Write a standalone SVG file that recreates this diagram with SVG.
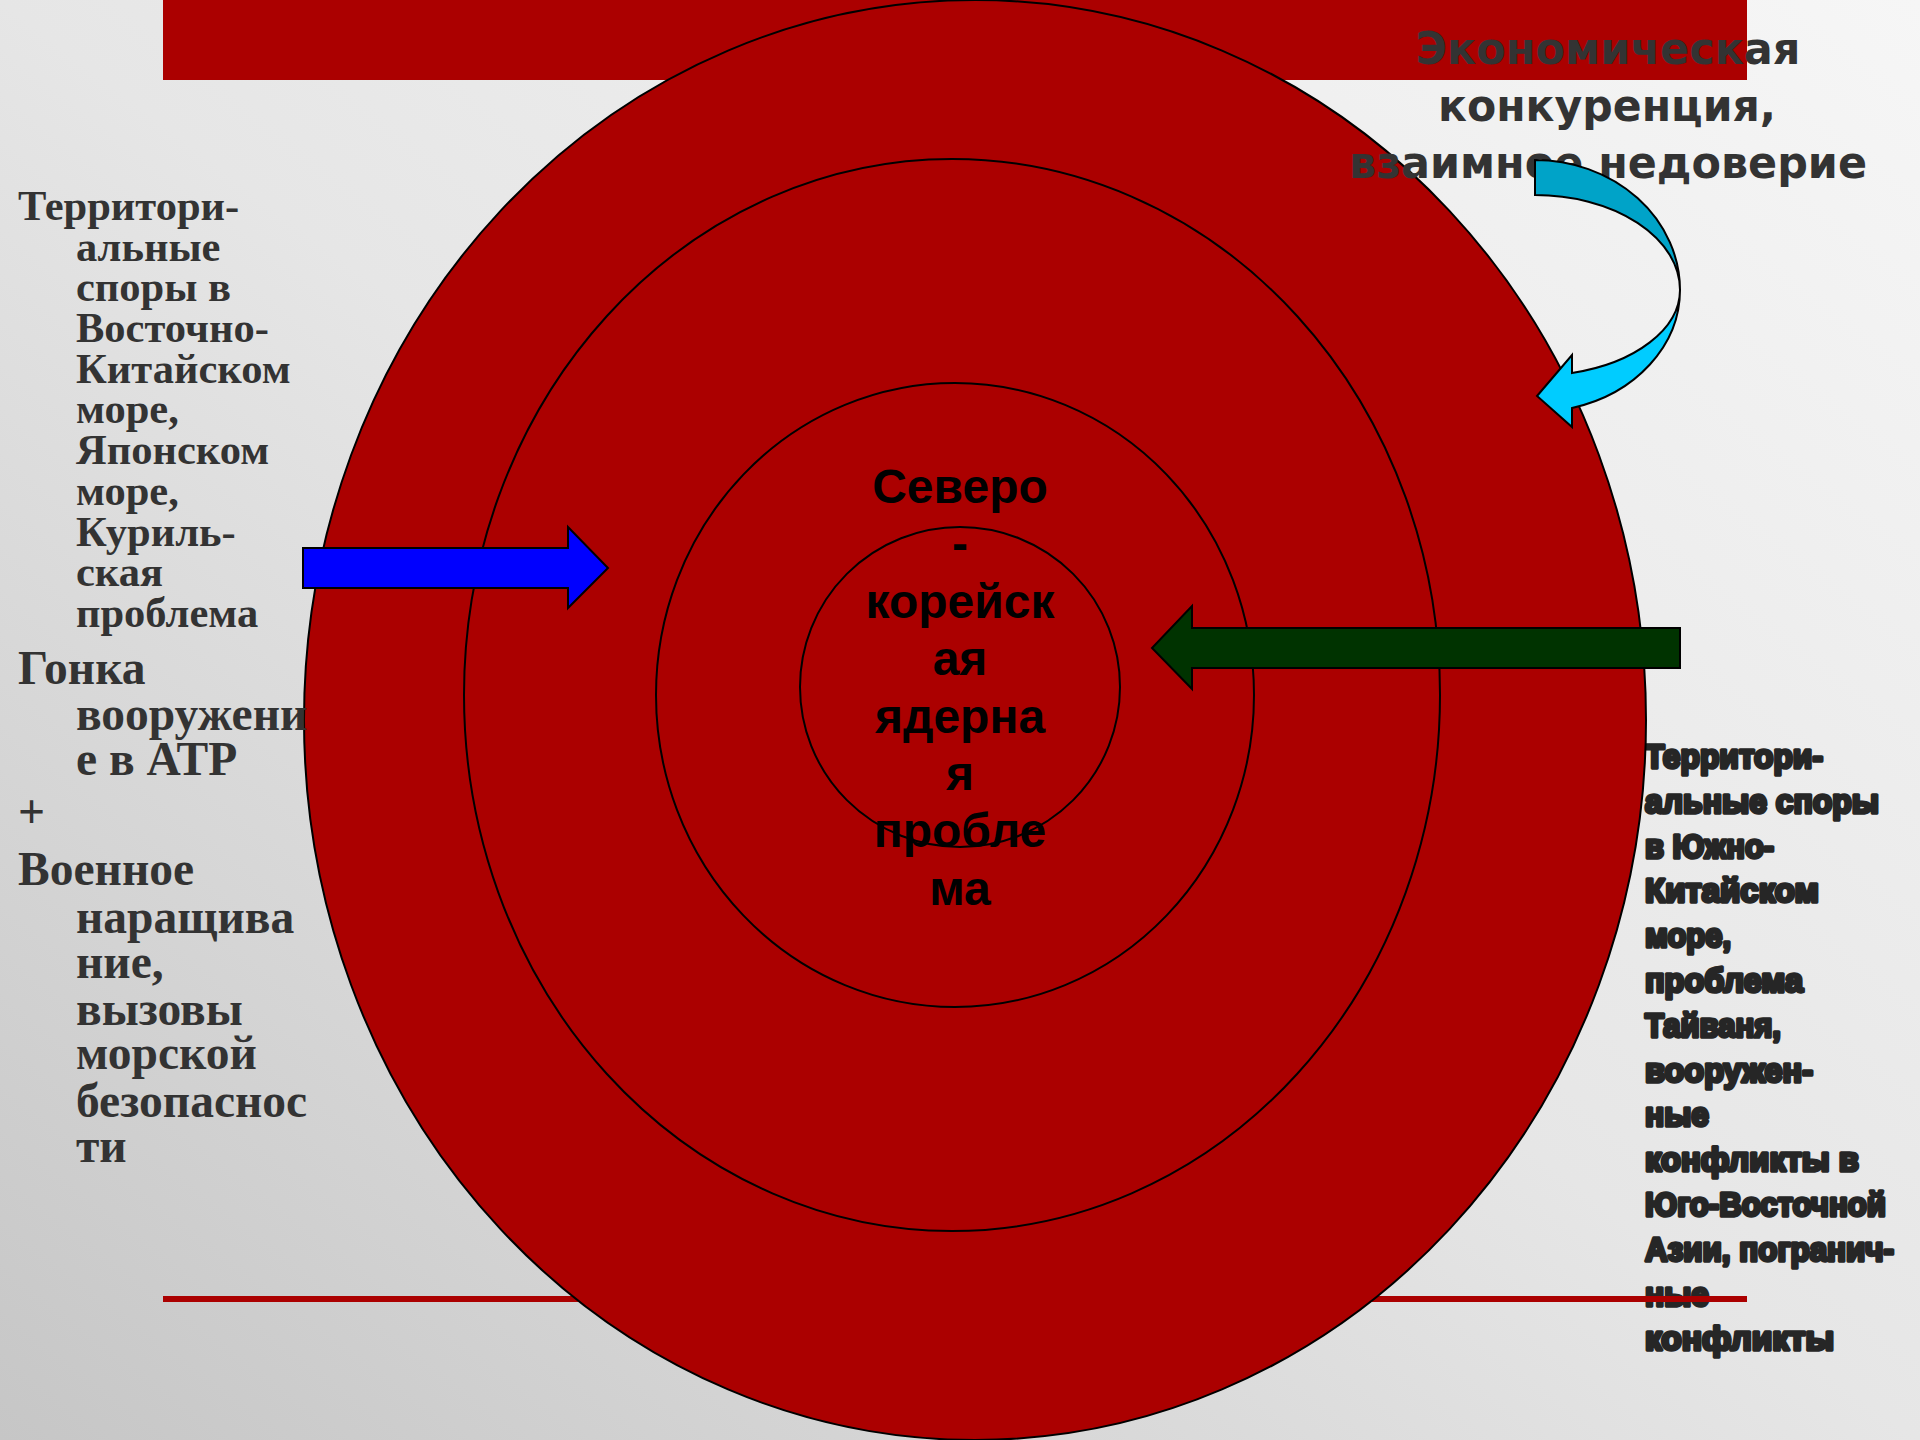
<svg xmlns="http://www.w3.org/2000/svg" width="1920" height="1440" viewBox="0 0 1920 1440">
<defs>
<linearGradient id="bg" x1="1" y1="0" x2="0" y2="1">
<stop offset="0" stop-color="#f6f6f6"/>
<stop offset="0.5" stop-color="#e6e6e6"/>
<stop offset="1" stop-color="#c6c6c6"/>
</linearGradient>
<style>
.ring{fill:#ab0000;stroke:#000;stroke-width:2}
.arrow{stroke:#000;stroke-width:2;stroke-linejoin:miter}
.serif{font-family:"Liberation Serif","Times New Roman",serif;font-weight:bold;fill:#333}
.center{font-family:"Liberation Sans",Arial,sans-serif;font-weight:bold;font-size:48px;fill:#000;text-anchor:middle}
.top{font-family:"DejaVu Sans",Verdana,sans-serif;font-weight:bold;font-size:45px;fill:#333;text-anchor:middle}
.heavy{font-family:"Liberation Sans",Arial,sans-serif;font-weight:bold;font-size:33px;fill:#262626;stroke:#262626;stroke-width:3.5;stroke-linejoin:round}
</style>
</defs>
<rect width="1920" height="1440" fill="url(#bg)"/>
<rect id="band" x="163" y="0" width="1584" height="80" fill="#ab0000"/>
<g id="text-right">
<text class="heavy" x="1645" y="768" textLength="178" lengthAdjust="spacingAndGlyphs">Территори-</text>
<text class="heavy" x="1645" y="813" textLength="234" lengthAdjust="spacingAndGlyphs">альные споры</text>
<text class="heavy" x="1645" y="858" textLength="129" lengthAdjust="spacingAndGlyphs">в Южно-</text>
<text class="heavy" x="1645" y="902" textLength="174" lengthAdjust="spacingAndGlyphs">Китайском</text>
<text class="heavy" x="1645" y="947" textLength="86" lengthAdjust="spacingAndGlyphs">море,</text>
<text class="heavy" x="1645" y="992" textLength="158" lengthAdjust="spacingAndGlyphs">проблема</text>
<text class="heavy" x="1645" y="1037" textLength="136" lengthAdjust="spacingAndGlyphs">Тайваня,</text>
<text class="heavy" x="1645" y="1082" textLength="168" lengthAdjust="spacingAndGlyphs">вооружен-</text>
<text class="heavy" x="1645" y="1126" textLength="64" lengthAdjust="spacingAndGlyphs">ные</text>
<text class="heavy" x="1645" y="1171" textLength="214" lengthAdjust="spacingAndGlyphs">конфликты в</text>
<text class="heavy" x="1645" y="1216" textLength="241" lengthAdjust="spacingAndGlyphs">Юго-Восточной</text>
<text class="heavy" x="1645" y="1261" textLength="249" lengthAdjust="spacingAndGlyphs">Азии, погранич-</text>
<text class="heavy" x="1645" y="1306" textLength="64" lengthAdjust="spacingAndGlyphs">ные</text>
<text class="heavy" x="1645" y="1350" textLength="189" lengthAdjust="spacingAndGlyphs">конфликты</text>
</g>
<rect id="bottom-line" x="163" y="1296" width="1584" height="6" fill="#ab0000"/>
<g id="rings">
<ellipse id="ring-outer" class="ring" cx="975" cy="720" rx="671" ry="720"/>
<ellipse id="ring-2" class="ring" cx="952" cy="695" rx="488" ry="536"/>
<ellipse id="ring-3" class="ring" cx="955" cy="695" rx="299" ry="312"/>
</g>
<g id="center-text">
<text class="center" x="960" y="503">Северо</text>
<text class="center" x="960" y="560">-</text>
<text class="center" x="960" y="618">корейск</text>
<text class="center" x="960" y="675">ая</text>
<text class="center" x="960" y="733">ядерна</text>
<text class="center" x="960" y="790">я</text>
<text class="center" x="960" y="847">пробле</text>
<text class="center" x="960" y="905">ма</text>
</g>
<circle id="ring-inner" cx="960" cy="687" r="160" fill="none" stroke="#000" stroke-width="2"/>
<g id="text-top">
<text class="top" x="1608" y="64" textLength="385" lengthAdjust="spacingAndGlyphs">Экономическая</text>
<text class="top" x="1607" y="121" textLength="338" lengthAdjust="spacingAndGlyphs">конкуренция,</text>
<text class="top" x="1608" y="178" textLength="518" lengthAdjust="spacingAndGlyphs">взаимное недоверие</text>
</g>
<g id="text-left">
<text class="serif" font-size="42.5">
<tspan x="18" y="220">Территори-</tspan>
<tspan x="76" y="261">альные</tspan>
<tspan x="76" y="301">споры в</tspan>
<tspan x="76" y="342">Восточно-</tspan>
<tspan x="76" y="383">Китайском</tspan>
<tspan x="76" y="423">море,</tspan>
<tspan x="76" y="464">Японском</tspan>
<tspan x="76" y="505">море,</tspan>
<tspan x="76" y="546">Куриль-</tspan>
<tspan x="76" y="586">ская</tspan>
<tspan x="76" y="627">проблема</tspan>
</text>
<text class="serif" font-size="47.5">
<tspan x="18" y="684">Гонка</tspan>
<tspan x="76" y="730">вооружени</tspan>
<tspan x="76" y="775">е в АТР</tspan>
<tspan x="18" y="828">+</tspan>
<tspan x="18" y="885">Военное</tspan>
<tspan x="76" y="933">наращива</tspan>
<tspan x="76" y="978">ние,</tspan>
<tspan x="76" y="1025">вызовы</tspan>
<tspan x="76" y="1069">морской</tspan>
<tspan x="76" y="1117">безопаснос</tspan>
<tspan x="76" y="1162">ти</tspan>
</text>
</g>
<g id="connectors">
<path id="arrow-blue" class="arrow" fill="#0000ff" d="M303,548 L568,548 L568,527 L608,568 L568,608 L568,588 L303,588 Z"/>
<path id="arrow-green" class="arrow" fill="#003300" d="M1680,628 L1192,628 L1192,606 L1152,648 L1192,689 L1192,668 L1680,668 Z"/>
<g id="arrow-curved" class="arrow">
<path fill="#00a3c8" d="M1535,160 A145,130 0 0 1 1680,290 A145,95 0 0 0 1535,195 Z"/>
<path fill="#00ccff" d="M1680,290 A145,122 0 0 1 1572,408 L1572,427 L1537,396 L1572,355 L1572,373 A145,86 0 0 0 1680,290 Z"/>
</g>
</g>
</svg>
